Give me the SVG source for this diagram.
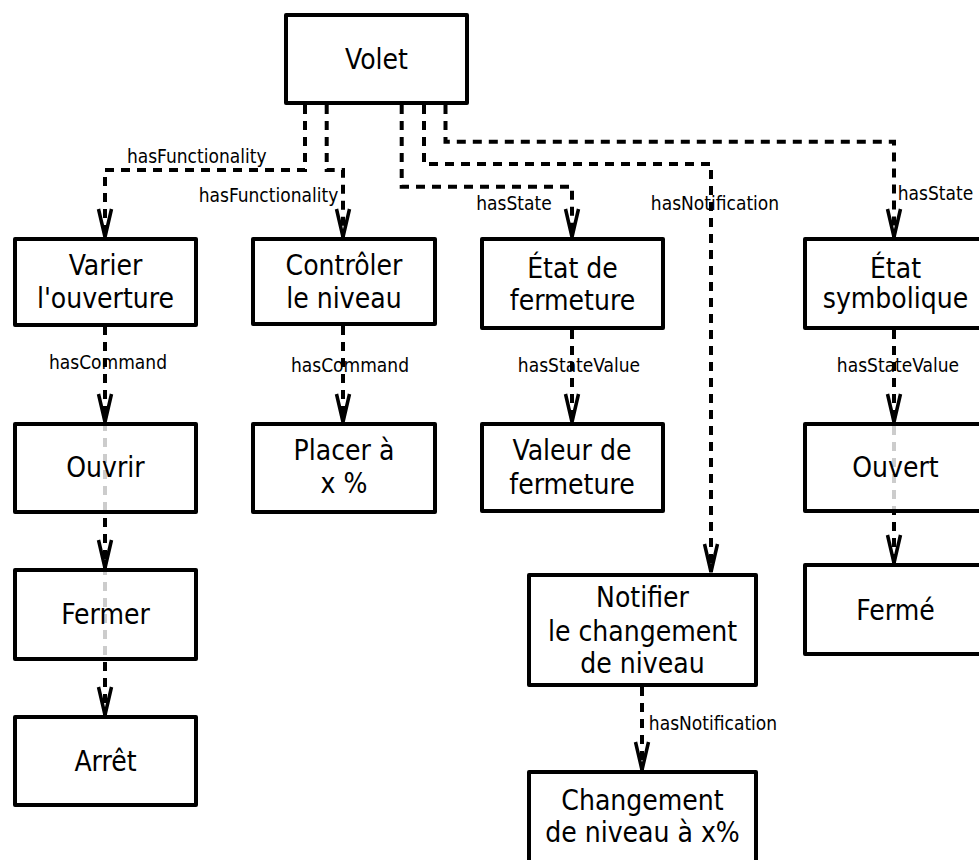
<svg xmlns="http://www.w3.org/2000/svg" width="979" height="860" viewBox="0 0 979 860">
<style>
.edge{fill:none;stroke:#000;stroke-width:4;stroke-dasharray:9 7;marker-end:url(#arr)}
.box rect{fill:#fff;fill-opacity:0.8;stroke:#000;stroke-width:4;stroke-linejoin:round}
.box text{font-family:"DejaVu Sans Condensed","DejaVu Sans",sans-serif;font-stretch:condensed;font-size:28px;text-anchor:middle;fill:#000}
.lbl{font-family:"DejaVu Sans Condensed","DejaVu Sans",sans-serif;font-stretch:condensed;font-size:19px;text-anchor:middle;fill:#000}
</style>
<defs>
<marker id="arr" markerUnits="userSpaceOnUse" orient="auto" refX="0" refY="0" markerWidth="40" markerHeight="20" viewBox="-32 -10 40 20" overflow="visible">
<path d="M-28,-6.5 L0,0 L-28,6.5" fill="none" stroke="#000" stroke-width="3.5" stroke-linejoin="miter"/>
</marker>
</defs>
<g id="connectors">
<path class="edge" d="M305,105 V170 H105 V237"/>
<path class="edge" d="M326.7,105 V170 H343 V237"/>
<path class="edge" d="M401.7,105 V186.7 H572 V237"/>
<path class="edge" d="M424,105 V164 H711 V572"/>
<path class="edge" d="M445.5,105 V141.7 H894 V237"/>
<path class="edge" d="M105,326 V422"/>
<path class="edge" d="M105,326 V568"/>
<path class="edge" d="M105,326 V715"/>
<path class="edge" d="M343,326 V422"/>
<path class="edge" d="M572,330 V422"/>
<path class="edge" d="M894,330 V422"/>
<path class="edge" d="M894,330 V563"/>
<path class="edge" d="M642,687 V770"/>
<text class="lbl" x="196.7" y="163.3">hasFunctionality</text>
<text class="lbl" x="268.5" y="201.7">hasFunctionality</text>
<text class="lbl" x="514" y="210">hasState</text>
<text class="lbl" x="715" y="210">hasNotification</text>
<text class="lbl" x="935.5" y="200">hasState</text>
<text class="lbl" x="108" y="369">hasCommand</text>
<text class="lbl" x="350" y="371.7">hasCommand</text>
<text class="lbl" x="579" y="371.7">hasStateValue</text>
<text class="lbl" x="898" y="371.7">hasStateValue</text>
<text class="lbl" x="713" y="730">hasNotification</text>
</g>
<g id="volet" class="box"><rect x="286" y="15" width="181" height="88"/><text x="376.5" y="69">Volet</text></g>
<g id="varier" class="box"><rect x="15" y="239" width="181" height="86"/><text x="105.5" y="275">Varier</text><text x="105.5" y="308">l'ouverture</text></g>
<g id="controler" class="box"><rect x="253" y="239" width="182" height="85"/><text x="344" y="275">Contrôler</text><text x="344" y="308">le niveau</text></g>
<g id="etat-fermeture" class="box"><rect x="482" y="239" width="181" height="89"/><text x="572.5" y="278">État de</text><text x="572.5" y="310">fermeture</text></g>
<g id="etat-symbolique" class="box"><rect x="805" y="239" width="181" height="89"/><text x="895.5" y="278">État</text><text x="895.5" y="308">symbolique</text></g>
<g id="ouvrir" class="box"><rect x="15" y="424" width="181" height="88"/><text x="105.5" y="476.7">Ouvrir</text></g>
<g id="placer" class="box"><rect x="253" y="424" width="182" height="88"/><text x="344" y="460">Placer à</text><text x="344" y="493">x %</text></g>
<g id="valeur" class="box"><rect x="482" y="424" width="181" height="87"/><text x="572" y="460">Valeur de</text><text x="572" y="494">fermeture</text></g>
<g id="ouvert" class="box"><rect x="805" y="424" width="181" height="87"/><text x="895.5" y="476.7">Ouvert</text></g>
<g id="fermer" class="box"><rect x="15" y="570" width="181" height="89"/><text x="105.5" y="624">Fermer</text></g>
<g id="notifier" class="box"><rect x="529" y="575" width="227" height="110"/><text x="642.5" y="606.7">Notifier</text><text x="642.5" y="641">le changement</text><text x="642.5" y="672.7">de niveau</text></g>
<g id="ferme" class="box"><rect x="805" y="565" width="181" height="89"/><text x="895.5" y="620">Fermé</text></g>
<g id="arret" class="box"><rect x="15" y="717" width="181" height="88"/><text x="105.5" y="770.7">Arrêt</text></g>
<g id="changement" class="box"><rect x="529" y="772" width="227" height="110"/><text x="642.5" y="810">Changement</text><text x="642.5" y="841.7">de niveau à x%</text></g>
</svg>
